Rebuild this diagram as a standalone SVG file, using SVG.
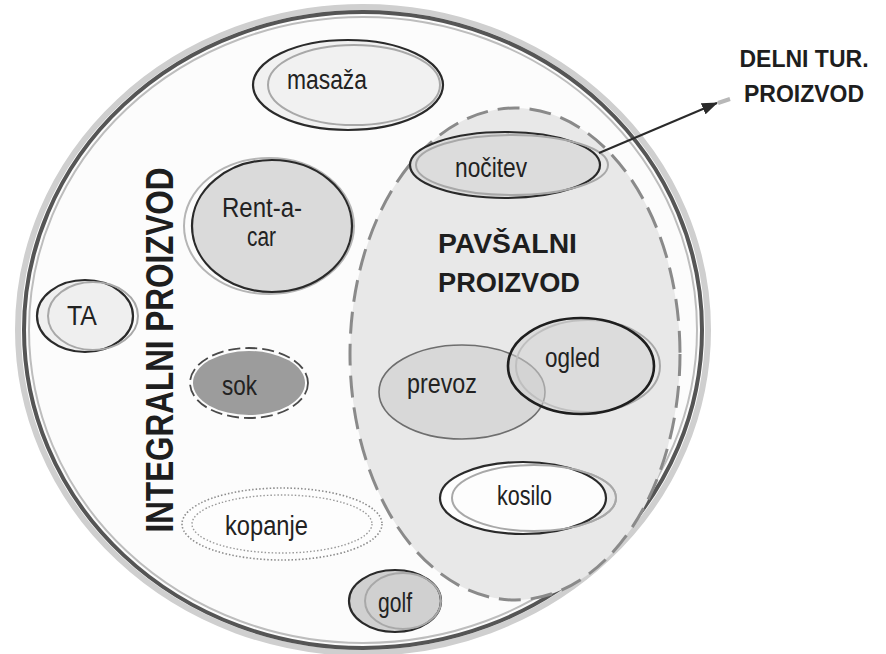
<svg xmlns="http://www.w3.org/2000/svg" width="886" height="654" viewBox="0 0 886 654">
  <defs>
    <style>
      .lbl { font-family: "Liberation Sans", Arial, sans-serif; font-size: 27px; fill: #222; }
      .bold { font-family: "Liberation Sans", Arial, sans-serif; font-weight: bold; fill: #1e1e1e; }
      .dark { stroke: #2a2a2a; stroke-width: 2.2; }
      .light { fill: none; stroke: #a8a8a8; stroke-width: 2; }
      .mid { stroke: #6e6e6e; stroke-width: 1.6; }
    </style>
    <marker id="arrow" viewBox="0 0 16 12" refX="15" refY="6" markerWidth="16" markerHeight="12" markerUnits="userSpaceOnUse" orient="auto">
      <path d="M0,0 L16,6 L0,12 Z" fill="#2a2a2a"/>
    </marker>
  </defs>

  <rect x="0" y="0" width="886" height="654" fill="#ffffff"/>

  <g id="integralni">
    <ellipse cx="363" cy="330" rx="345" ry="323" fill="none" stroke="#cfcfcf" stroke-width="6"/>
    <ellipse cx="363" cy="330" rx="339" ry="318" fill="#fcfcfc" stroke="#555" stroke-width="4"/>
    <ellipse cx="363" cy="330" rx="334" ry="313" fill="none" stroke="#bdbdbd" stroke-width="2"/>
    <text class="bold" font-size="38" transform="translate(173,350) rotate(-90)" x="0" y="0" text-anchor="middle" textLength="365" lengthAdjust="spacingAndGlyphs">INTEGRALNI PROIZVOD</text>
  </g>

  <g id="pavsalni">
    <ellipse cx="515" cy="354" rx="165" ry="246" fill="#e8e8e8" stroke="#8a8a8a" stroke-width="3" stroke-dasharray="22 10"/>
    <text class="bold" font-size="27" x="438" y="253" textLength="139" lengthAdjust="spacingAndGlyphs">PAVŠALNI</text>
    <text class="bold" font-size="27" x="438" y="292" textLength="142" lengthAdjust="spacingAndGlyphs">PROIZVOD</text>
  </g>

  <g id="delni">
    <text class="bold" font-size="23" x="804" y="67" text-anchor="middle">DELNI TUR.</text>
    <text class="bold" font-size="23" x="804" y="102" text-anchor="middle">PROIZVOD</text>
  </g>

  <g id="masaza">
    <ellipse cx="348" cy="85" rx="95" ry="45" fill="#f1f1f1" class="dark"/>
    <ellipse cx="354" cy="85" rx="86" ry="40" class="light"/>
    <text class="lbl" x="287" y="89" textLength="80" lengthAdjust="spacingAndGlyphs">masaža</text>
  </g>

  <g id="nocitev">
    <ellipse cx="505" cy="165" rx="95" ry="33" fill="#dcdcdc" class="dark"/>
    <ellipse cx="512" cy="165" rx="96" ry="30" class="light"/>
    <text class="lbl" x="455" y="177" textLength="72" lengthAdjust="spacingAndGlyphs">nočitev</text>
  </g>

  <g id="rentacar">
    <ellipse cx="269" cy="226" rx="85" ry="68" fill="none" stroke="#b5b5b5" stroke-width="2"/>
    <ellipse cx="272" cy="226" rx="80" ry="66" fill="#dadada" class="dark"/>
    <text class="lbl" x="222" y="217" textLength="80" lengthAdjust="spacingAndGlyphs">Rent-a-</text>
    <text class="lbl" x="247" y="246" textLength="29" lengthAdjust="spacingAndGlyphs">car</text>
  </g>

  <g id="ta">
    <ellipse cx="85" cy="316" rx="48" ry="36" fill="#efefef" class="dark"/>
    <ellipse cx="93" cy="316" rx="45" ry="34" class="light"/>
    <text class="lbl" x="67" y="325" textLength="30" lengthAdjust="spacingAndGlyphs">TA</text>
  </g>

  <g id="sok">
    <ellipse cx="249" cy="383" rx="56" ry="32" fill="#9c9c9c"/>
    <ellipse cx="249" cy="383" rx="59" ry="35" fill="none" stroke="#4a4a4a" stroke-width="1.8" stroke-dasharray="12 5"/>
    <text class="lbl" x="222" y="395" textLength="35" lengthAdjust="spacingAndGlyphs">sok</text>
  </g>

  <g id="prevoz">
    <ellipse cx="462" cy="392" rx="83" ry="47" fill="#d8d8d8" class="mid"/>
    <text class="lbl" x="407" y="393" textLength="70" lengthAdjust="spacingAndGlyphs">prevoz</text>
  </g>

  <g id="ogled">
    <ellipse cx="588" cy="366" rx="72" ry="46" class="light"/>
    <ellipse cx="581" cy="366" rx="73" ry="48" fill="#d2d2d2" fill-opacity="0.55" stroke="#1e1e1e" stroke-width="2.6"/>
    <text class="lbl" x="545" y="367" textLength="55" lengthAdjust="spacingAndGlyphs">ogled</text>
  </g>

  <g id="kosilo">
    <ellipse cx="534" cy="498" rx="82" ry="33" class="light"/>
    <ellipse cx="523" cy="498" rx="83" ry="36" fill="#ffffff" fill-opacity="0.9" class="dark"/>
    <ellipse cx="534" cy="498" rx="82" ry="33" class="light"/>
    <text class="lbl" x="497" y="505" textLength="55" lengthAdjust="spacingAndGlyphs">kosilo</text>
  </g>

  <g id="kopanje">
    <ellipse cx="282" cy="524" rx="100" ry="36" fill="#fdfdfd" stroke="#8c8c8c" stroke-width="1.6" stroke-dasharray="1.5 2"/>
    <ellipse cx="282" cy="524" rx="90" ry="29" fill="none" stroke="#9a9a9a" stroke-width="1.4" stroke-dasharray="1.5 2"/>
    <text class="lbl" x="225" y="535" textLength="83" lengthAdjust="spacingAndGlyphs">kopanje</text>
  </g>

  <g id="golf">
    <ellipse cx="395" cy="601" rx="46" ry="31" fill="#d0d0d0" class="dark"/>
    <ellipse cx="403" cy="601" rx="38" ry="28" class="light"/>
    <text class="lbl" x="378" y="612" textLength="34" lengthAdjust="spacingAndGlyphs">golf</text>
  </g>

  <g id="connectors">
    <line x1="718" y1="103" x2="730" y2="99" stroke="#b8b8b8" stroke-width="4"/>
    <line x1="599" y1="153" x2="717" y2="103" stroke="#2a2a2a" stroke-width="2" marker-end="url(#arrow)"/>
  </g>
</svg>
